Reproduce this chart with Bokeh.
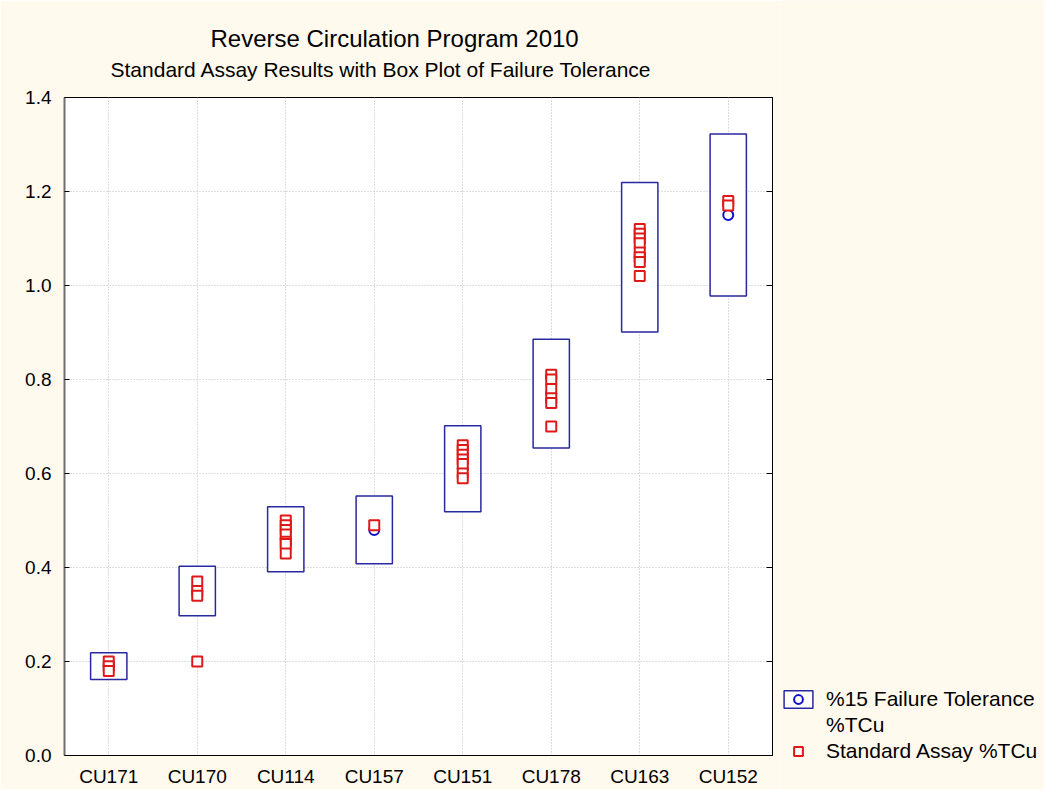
from bokeh.plotting import figure
from bokeh.layouts import row
from bokeh.models import (FactorRange, Range1d, LinearAxis, Legend, LegendItem,
                          Title, FixedTicker, ColumnDataSource, CustomJSTickFormatter)
from bokeh.embed import file_html
from bokeh.resources import INLINE

# ---------------- data ----------------
categories = ["CU171", "CU170", "CU114", "CU157", "CU151", "CU178", "CU163", "CU152"]
certified = [0.19, 0.35, 0.46, 0.48, 0.61, 0.77, 1.06, 1.15]
box_low = [0.1615, 0.2975, 0.391, 0.408, 0.5185, 0.6545, 0.901, 0.9775]
box_high = [0.2185, 0.4025, 0.529, 0.552, 0.7015, 0.8855, 1.219, 1.3225]
assay_values = [
    [0.20, 0.19, 0.18],
    [0.37, 0.35, 0.34, 0.20],
    [0.50, 0.49, 0.48, 0.47, 0.455, 0.45, 0.43],
    [0.49],
    [0.66, 0.65, 0.64, 0.63, 0.62, 0.60, 0.59],
    [0.81, 0.80, 0.78, 0.76, 0.75, 0.70],
    [1.12, 1.11, 1.10, 1.09, 1.07, 1.06, 1.05, 1.02],
    [1.18, 1.17],
]
y_ticks = [0.0, 0.2, 0.4, 0.6, 0.8, 1.0, 1.2, 1.4]
legend_labels = ["%15 Failure Tolerance", "%TCu", "Standard Assay %TCu"]

FONT = "Liberation Sans"
BG = "#FFF9EE"
BOX_COLOR = "#2828A0"
CIRC_COLOR = "#1010CC"
SQ_COLOR = "#E01818"

p = figure(x_range=FactorRange(*categories, range_padding=0), y_range=Range1d(0, 1.4),
           width=780, height=789, output_backend="svg", toolbar_location=None,
           min_border_left=64, min_border_right=8, min_border_top=97, min_border_bottom=34)
p.background_fill_color = "white"
p.border_fill_color = BG
p.outline_line_color = "black"
p.outline_line_width = 1

# titles
p.title.text = "Reverse Circulation Program 2010"
p.title.text_font = FONT
p.title.text_font_size = "24px"
p.title.text_font_style = "normal"
p.title.text_color = "black"
p.title.align = "left"
p.title.offset = 146
p.title.standoff = -27
sub = Title(text="Standard Assay Results with Box Plot of Failure Tolerance", text_font=FONT,
            text_font_size="21px", text_font_style="normal", text_color="black",
            align="left", offset=46, standoff=34)
p.add_layout(sub, "above")

# grid
for g in (p.xgrid, p.ygrid):
    g.grid_line_color = "#bdbdbd"
    g.grid_line_dash = "1 2"
    g.grid_line_width = 1
p.ygrid.ticker = FixedTicker(ticks=y_ticks)

# axes
p.yaxis.ticker = FixedTicker(ticks=y_ticks)
p.yaxis.formatter = CustomJSTickFormatter(code="return tick.toFixed(1);")
for ax in (p.xaxis[0], p.yaxis[0]):
    ax.major_label_text_font = FONT
    ax.major_label_text_font_size = "19px"
    ax.major_label_text_color = "black"
    ax.major_tick_in = 5
    ax.major_tick_out = 0
    ax.minor_tick_in = 0
    ax.minor_tick_out = 0
    ax.major_tick_line_color = "black"
    ax.major_label_standoff = 13
p.yaxis.axis_line_color = "#707070"
p.yaxis.axis_line_width = 2
p.xaxis.axis_line_color = "black"
p.xaxis.major_tick_line_color = None
p.xaxis.major_label_standoff = 10

right = LinearAxis(ticker=FixedTicker(ticks=y_ticks), major_label_text_font_size="1px",
                   major_label_text_color=None, major_label_standoff=0,
                   major_tick_in=6, major_tick_out=0, minor_tick_in=0, minor_tick_out=0,
                   axis_line_color="black", major_tick_line_color="black")
p.add_layout(right, "right")

# boxes (15% failure tolerance)
box_src = ColumnDataSource(dict(x=categories, low=box_low, high=box_high, mid=certified))
p.vbar(x="x", bottom="low", top="high", width=0.41, source=box_src,
       fill_color="white", line_color=BOX_COLOR, line_width=1.5)
p.scatter(x="x", y="mid", source=box_src, marker="circle", size=10,
          fill_color="white", line_color=CIRC_COLOR, line_width=2)

# standard assays
sq_x = []
sq_y = []
for c, vals in zip(categories, assay_values):
    for v in vals:
        sq_x.append(c)
        sq_y.append(v)
p.scatter(x=sq_x, y=sq_y, marker="square", size=10, fill_color="white",
          line_color=SQ_COLOR, line_width=2)

# ---------------- legend panel ----------------
lg = figure(width=264, height=789, output_backend="svg", toolbar_location=None,
            x_range=Range1d(0, 1), y_range=Range1d(0, 1),
            x_axis_location=None, y_axis_location=None,
            min_border_left=0, min_border_right=0, min_border_top=0, min_border_bottom=0)
lg.background_fill_color = BG
lg.border_fill_color = BG
lg.outline_line_color = None
lg.xgrid.visible = False
lg.ygrid.visible = False

legend_y = 0
if "frame_align" in lg.properties():
    lg.frame_align = False
    legend_y = 26

# legend proxies: one point each, placed outside this panel's visible range
proxy = ColumnDataSource(dict(l=[5], r=[6], t=[6], b=[5], x=[5], y=[5]))
lb = lg.quad(left="l", right="r", top="t", bottom="b", source=proxy, fill_color="white",
             line_color=BOX_COLOR, line_width=1.5)
lc = lg.scatter(x="x", y="y", source=proxy, marker="circle", size=9, fill_color="white",
                line_color=CIRC_COLOR, line_width=2)
ld = lg.scatter(x="x", y="y", source=proxy, marker="circle", size=1, fill_alpha=0, line_alpha=0)
ls = lg.scatter(x="x", y="y", source=proxy, marker="square", size=10, fill_color="white",
                line_color=SQ_COLOR, line_width=2)

legend = Legend(items=[
    LegendItem(label=legend_labels[0], renderers=[lb, lc]),
    LegendItem(label=legend_labels[1], renderers=[ld]),
    LegendItem(label=legend_labels[2], renderers=[ls]),
], location=(0, legend_y))
legend.background_fill_alpha = 0
legend.border_line_alpha = 0
legend.padding = 0
legend.margin = 0
legend.spacing = 2
legend.glyph_width = 36
legend.glyph_height = 22
legend.label_standoff = 10
legend.label_text_font = FONT
legend.label_text_font_size = "21px"
legend.label_text_color = "black"
legend.label_height = 22
lg.add_layout(legend, "center")

layout = row(p, lg, spacing=0)
open("out.html", "w").write(file_html(layout, INLINE))
